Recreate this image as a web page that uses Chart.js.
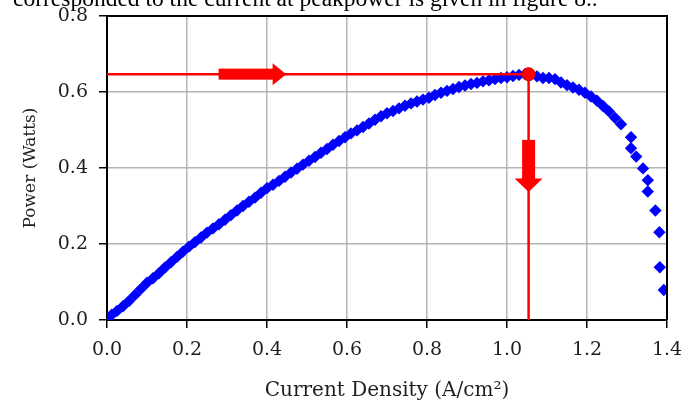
<!DOCTYPE html>
<html>
<head>
<meta charset="utf-8">
<script src="https://cdn.jsdelivr.net/npm/chart.js@4/dist/chart.umd.min.js"></script>
<style>
  body { margin: 0; background: #fff; }
  #myChart { display: block; }
</style>
</head>
<body>
<canvas id="myChart" width="700" height="401"></canvas>
<script>
// current density (A/cm2) and power (W)
const currentDensity = [0.000, 0.012, 0.025, 0.040, 0.055, 0.070, 0.085, 0.100, 0.115, 0.130,
    0.145, 0.160, 0.175, 0.190, 0.205, 0.220, 0.235, 0.250, 0.265, 0.280,
    0.295, 0.310, 0.325, 0.340, 0.355, 0.370, 0.385, 0.400, 0.415, 0.430,
    0.445, 0.460, 0.475, 0.490, 0.505, 0.520, 0.535, 0.550, 0.565, 0.580,
    0.595, 0.610, 0.625, 0.640, 0.655, 0.670, 0.685, 0.700, 0.715, 0.730,
    0.745, 0.760, 0.775, 0.790, 0.805, 0.820, 0.835, 0.850, 0.865, 0.880,
    0.895, 0.910, 0.925, 0.940, 0.955, 0.970, 0.985, 1.000, 1.015, 1.030,
    1.045, 1.060, 1.075, 1.090, 1.105, 1.120, 1.135, 1.150, 1.165, 1.180,
    1.195, 1.210, 1.225, 1.240, 1.255, 1.270, 1.285, 1.310, 1.310, 1.323,
    1.340, 1.352, 1.352, 1.371, 1.381, 1.382, 1.392];
const power = [0.006, 0.014, 0.024, 0.036, 0.050, 0.066, 0.082, 0.098, 0.110, 0.123,
    0.138, 0.152, 0.166, 0.180, 0.193, 0.205, 0.217, 0.230, 0.241, 0.252,
    0.264, 0.276, 0.288, 0.300, 0.311, 0.322, 0.335, 0.347, 0.356, 0.366,
    0.377, 0.388, 0.398, 0.409, 0.419, 0.429, 0.440, 0.450, 0.461, 0.471,
    0.481, 0.491, 0.499, 0.508, 0.517, 0.527, 0.536, 0.544, 0.550, 0.557,
    0.564, 0.570, 0.575, 0.580, 0.585, 0.592, 0.598, 0.603, 0.608, 0.613,
    0.617, 0.621, 0.624, 0.628, 0.631, 0.634, 0.637, 0.639, 0.642, 0.645,
    0.647, 0.646, 0.641, 0.637, 0.637, 0.634, 0.625, 0.618, 0.612, 0.606,
    0.598, 0.588, 0.577, 0.563, 0.549, 0.532, 0.515, 0.481, 0.452, 0.430,
    0.399, 0.368, 0.338, 0.288, 0.231, 0.139, 0.079];

// peak power point and the guide lines through it
const peakCurrent = 1.054;
const peakPower = 0.647;
const guideX = [0, peakCurrent, peakCurrent];
const guideY = [peakPower, peakPower, 0];

const xTicks = [0, 0.2, 0.4, 0.6, 0.8, 1.0, 1.2, 1.4];
const yTicks = [0, 0.2, 0.4, 0.6, 0.8];
const captionText = "corresponded to the current at peakpower is given in figure 8..";

// arrow positions (data units)
const hArrow = { x0: 0.279, x1: 0.4165, tip: 0.448, y: peakPower };
const vArrow = { y0: 0.474, y1: 0.370, tip: 0.337, x: peakCurrent };

const serif = "'DejaVu Serif', serif";
const txt = '#1e1e1e';

const points = currentDensity.map((c, i) => ({ x: c, y: power[i] }));
const guide = guideX.map((g, i) => ({ x: g, y: guideY[i] }));

const frame = {
    id: 'frame',
    beforeDraw(chart) {
        const ctx = chart.ctx;
        ctx.save();
        ctx.fillStyle = '#fff';
        ctx.fillRect(0, 0, chart.width, chart.height);
        // caption line cut off by the top edge
        ctx.fillStyle = '#000';
        ctx.font = "23.5px 'Liberation Serif', serif";
        ctx.textBaseline = 'alphabetic';
        ctx.fillText(captionText, 13, 6);
        ctx.restore();
    },
    afterDraw(chart) {
        const ctx = chart.ctx;
        const a = chart.chartArea;
        const xs = chart.scales.x, ys = chart.scales.y;
        ctx.save();
        ctx.strokeStyle = '#000';
        ctx.lineWidth = 2;
        ctx.beginPath();
        ctx.moveTo(a.left, a.top);
        ctx.lineTo(a.right, a.top);
        ctx.lineTo(a.right, a.bottom);
        ctx.stroke();

        ctx.fillStyle = '#ff0000';
        // horizontal arrow
        let x0 = xs.getPixelForValue(hArrow.x0);
        let x1 = xs.getPixelForValue(hArrow.x1);
        let xt = xs.getPixelForValue(hArrow.tip);
        let yc = ys.getPixelForValue(hArrow.y);
        ctx.fillRect(x0, yc - 5.5, x1 - x0, 11);
        ctx.beginPath();
        ctx.moveTo(x1 - 1, yc - 11);
        ctx.lineTo(xt, yc);
        ctx.lineTo(x1 - 1, yc + 11);
        ctx.closePath();
        ctx.fill();
        // vertical arrow
        let xc = xs.getPixelForValue(vArrow.x);
        let y0 = ys.getPixelForValue(vArrow.y0);
        let y1 = ys.getPixelForValue(vArrow.y1);
        let yt = ys.getPixelForValue(vArrow.tip);
        ctx.fillRect(xc - 6.5, y0, 13, y1 - y0);
        ctx.beginPath();
        ctx.moveTo(xc - 14, y1 - 1);
        ctx.lineTo(xc, yt);
        ctx.lineTo(xc + 14, y1 - 1);
        ctx.closePath();
        ctx.fill();
        ctx.restore();
    }
};

new Chart("myChart", {
    type: 'scatter',
    data: {
        datasets: [{
            data: [{ x: peakCurrent, y: peakPower }],
            pointStyle: 'circle',
            pointRadius: 6.5,
            pointBackgroundColor: '#ff0000',
            pointBorderColor: '#e00000',
            pointBorderWidth: 1,
            order: 0
        }, {
            data: guide,
            showLine: true,
            borderColor: '#ff0000',
            borderWidth: 2.5,
            pointRadius: 0,
            order: 1
        }, {
            data: points,
            pointStyle: 'rectRot',
            pointRadius: 6.2,
            pointBackgroundColor: '#0000ff',
            pointBorderWidth: 0,
            order: 2
        }]
    },
    options: {
        responsive: false,
        animation: false,
        devicePixelRatio: 1,
        layout: { padding: { left: 0, top: 16, right: 33, bottom: 0 } },
        plugins: {
            legend: { display: false },
            tooltip: { enabled: false }
        },
        scales: {
            x: {
                type: 'linear',
                min: 0,
                max: 1.4,
                afterFit: s => { s.height = 81; s.paddingLeft = 0; s.paddingRight = 0; },
                afterBuildTicks: s => { s.ticks = xTicks.map(v => ({ value: v })); },
                ticks: {
                    padding: 11,
                    color: txt,
                    font: { family: serif, size: 19 },
                    callback: v => v.toFixed(1)
                },
                grid: { color: '#b4b4b4', lineWidth: 1.5, tickLength: 8, tickColor: '#000', tickWidth: 1.5 },
                border: { color: '#000', width: 2 },
                title: {
                    display: true,
                    text: 'Current Density (A/cm\u00B2)',
                    color: txt,
                    font: { family: serif, size: 20, lineHeight: 1 },
                    padding: { top: 0, bottom: 0 }
                }
            },
            y: {
                type: 'linear',
                min: 0,
                max: 0.8,
                afterFit: s => { s.width = 107; s.paddingTop = 0; s.paddingBottom = 0; },
                afterBuildTicks: s => { s.ticks = yTicks.map(v => ({ value: v })); },
                ticks: {
                    padding: 11,
                    color: txt,
                    font: { family: serif, size: 19 },
                    callback: v => v.toFixed(1)
                },
                grid: { color: '#b4b4b4', lineWidth: 1.5, tickLength: 8, tickColor: '#000', tickWidth: 1.5 },
                border: { color: '#000', width: 2 },
                title: {
                    display: true,
                    text: 'Power (Watts)',
                    color: txt,
                    font: { family: serif, size: 17 },
                    padding: { top: 20, bottom: 0 }
                }
            }
        }
    },
    plugins: [frame]
});
</script>
</body>
</html>
